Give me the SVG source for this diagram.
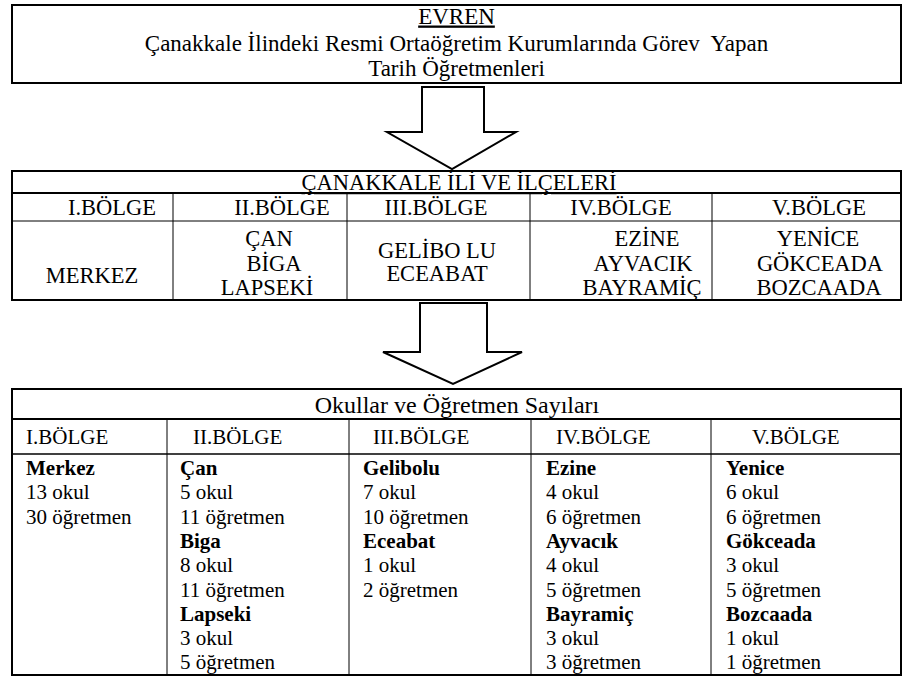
<svg xmlns="http://www.w3.org/2000/svg" width="906" height="677" viewBox="0 0 906 677">
<style>
text { font-family: "Liberation Serif", "Times New Roman", serif; fill: #000; }
.t { font-size: 23px; }
.m { font-size: 22.5px; }
.s { font-size: 21px; }
.h { font-size: 24px; }
.c { text-anchor: middle; }
.b { font-weight: bold; }
.u { text-decoration: underline; }
.box { fill: #fff; stroke: #000; stroke-width: 2; }
.thick { stroke: #000; stroke-width: 2; }
.thin { stroke: #000; stroke-width: 1; }
.arrow { fill: #fff; stroke: #000; stroke-width: 2; stroke-linejoin: miter; }
</style>
<rect width="906" height="677" fill="#fff"/>

<g id="evren">
  <rect class="box" x="12" y="5" width="889" height="78"/>
  <text class="t c u" x="456.5" y="23.5">EVREN</text>
  <text class="t c" x="456.5" y="50.5" xml:space="preserve">Çanakkale İlindeki Resmi Ortaöğretim Kurumlarında Görev  Yapan</text>
  <text class="t c" x="456.5" y="76">Tarih Öğretmenleri</text>
</g>

<g id="connectors">
  <polygon class="arrow" points="422,87 484,87 484,132 516,132 452,169 387,132 422,132"/>
  <polygon class="arrow" points="420,303 487,303 487,352 522,352 453,384 383,352 420,352"/>
</g>

<g id="ilceler">
  <rect class="box" x="12" y="171" width="889" height="129"/>
  <line class="thick" x1="12" y1="193" x2="901" y2="193"/>
  <line class="thin" x1="12" y1="221" x2="901" y2="221"/>
  <line class="thin" x1="173" y1="193" x2="173" y2="300"/>
  <line class="thin" x1="347" y1="193" x2="347" y2="300"/>
  <line class="thin" x1="530" y1="193" x2="530" y2="300"/>
  <line class="thin" x1="712" y1="193" x2="712" y2="300"/>
  <text class="m c u" x="459" y="190">ÇANAKKALE İLİ VE İLÇELERİ</text>
  <text class="m c" x="112" y="215">I.BÖLGE</text>
  <text class="m c" x="282" y="215">II.BÖLGE</text>
  <text class="m c" x="436" y="215">III.BÖLGE</text>
  <text class="m c" x="621" y="215">IV.BÖLGE</text>
  <text class="m c" x="819" y="215">V.BÖLGE</text>
  <text class="m c" x="92" y="283">MERKEZ</text>
  <text class="m c" x="269" y="246">ÇAN</text>
  <text class="m c" x="274" y="271">BİGA</text>
  <text class="m c" x="267" y="295">LAPSEKİ</text>
  <text class="m c" x="437" y="258">GELİBO LU</text>
  <text class="m c" x="437" y="281">ECEABAT</text>
  <text class="m c" x="647" y="246">EZİNE</text>
  <text class="m c" x="643" y="271">AYVACIK</text>
  <text class="m c" x="642" y="295">BAYRAMİÇ</text>
  <text class="m c" x="818" y="246">YENİCE</text>
  <text class="m c" x="820" y="271">GÖKCEADA</text>
  <text class="m c" x="819" y="295">BOZCAADA</text>
</g>

<g id="okullar">
  <rect class="box" x="12" y="389" width="889" height="286"/>
  <line class="thick" x1="12" y1="419" x2="901" y2="419"/>
  <line class="thin" x1="12" y1="454" x2="901" y2="454" style="stroke-width:1.3"/>
  <line class="thin" x1="167" y1="419" x2="167" y2="675"/>
  <line class="thin" x1="349" y1="419" x2="349" y2="675"/>
  <line class="thin" x1="531" y1="419" x2="531" y2="675"/>
  <line class="thin" x1="711" y1="419" x2="711" y2="675"/>
  <text class="h c" x="457" y="413">Okullar ve Öğretmen Sayıları</text>
  <text class="s" x="26" y="444">I.BÖLGE</text>
  <text class="s" x="193" y="444">II.BÖLGE</text>
  <text class="s" x="373" y="444">III.BÖLGE</text>
  <text class="s" x="556" y="444">IV.BÖLGE</text>
  <text class="s" x="752" y="444">V.BÖLGE</text>

  <text class="s b" x="26" y="475">Merkez</text>
  <text class="s" x="26" y="499.3">13 okul</text>
  <text class="s" x="26" y="523.6">30 öğretmen</text>

  <text class="s b" x="180" y="475">Çan</text>
  <text class="s" x="180" y="499.3">5 okul</text>
  <text class="s" x="180" y="523.6">11 öğretmen</text>
  <text class="s b" x="180" y="547.9">Biga</text>
  <text class="s" x="180" y="572.2">8 okul</text>
  <text class="s" x="180" y="596.5">11 öğretmen</text>
  <text class="s b" x="180" y="620.8">Lapseki</text>
  <text class="s" x="180" y="645.1">3 okul</text>
  <text class="s" x="180" y="669.4">5 öğretmen</text>

  <text class="s b" x="363" y="475">Gelibolu</text>
  <text class="s" x="363" y="499.3">7 okul</text>
  <text class="s" x="363" y="523.6">10 öğretmen</text>
  <text class="s b" x="363" y="547.9">Eceabat</text>
  <text class="s" x="363" y="572.2">1 okul</text>
  <text class="s" x="363" y="596.5">2 öğretmen</text>

  <text class="s b" x="546" y="475">Ezine</text>
  <text class="s" x="546" y="499.3">4 okul</text>
  <text class="s" x="546" y="523.6">6 öğretmen</text>
  <text class="s b" x="546" y="547.9">Ayvacık</text>
  <text class="s" x="546" y="572.2">4 okul</text>
  <text class="s" x="546" y="596.5">5 öğretmen</text>
  <text class="s b" x="546" y="620.8">Bayramiç</text>
  <text class="s" x="546" y="645.1">3 okul</text>
  <text class="s" x="546" y="669.4">3 öğretmen</text>

  <text class="s b" x="726" y="475">Yenice</text>
  <text class="s" x="726" y="499.3">6 okul</text>
  <text class="s" x="726" y="523.6">6 öğretmen</text>
  <text class="s b" x="726" y="547.9">Gökceada</text>
  <text class="s" x="726" y="572.2">3 okul</text>
  <text class="s" x="726" y="596.5">5 öğretmen</text>
  <text class="s b" x="726" y="620.8">Bozcaada</text>
  <text class="s" x="726" y="645.1">1 okul</text>
  <text class="s" x="726" y="669.4">1 öğretmen</text>
</g>
</svg>
